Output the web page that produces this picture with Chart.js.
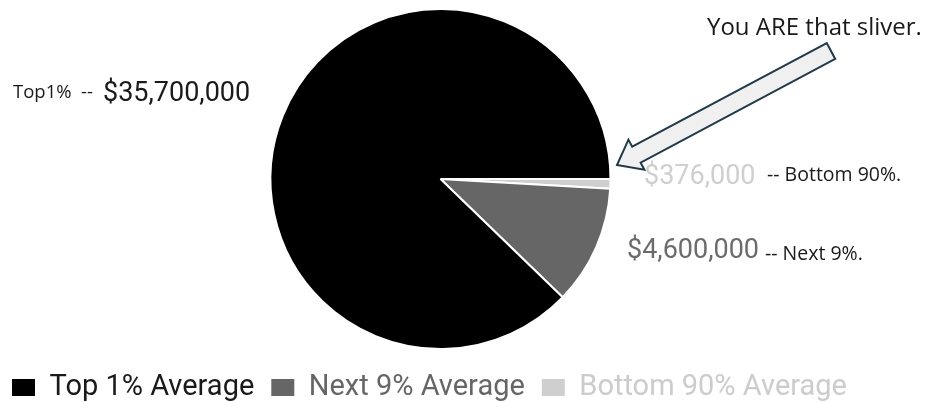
<!DOCTYPE html>
<html>
<head>
<meta charset="utf-8">
<script src="https://cdn.jsdelivr.net/npm/chart.js@4"></script>
<style>
  html, body { margin: 0; padding: 0; background: #fff; }
  #wrap { width: 927px; height: 402px; position: relative; }
</style>
</head>
<body>
<div id="wrap"><canvas id="wealthChart"></canvas></div>
<script>
// chart data (legend order)
var categories = ["Top 1% Average", "Next 9% Average", "Bottom 90% Average"];
var averages = [35700000, 4600000, 376000];
var sliceColors = ["#000000", "#666666", "#cfcfcf"];
var legendTextColors = ["#1a1a1a", "#666666", "#cccccc"];

// value labels beside the pie
var valueLabels = ["$35,700,000", "$4,600,000", "$376,000"];
var groupNames = ["Top1%", "Next 9%.", "Bottom 90%."];
var calloutText = "You ARE that sliver.";

// the pie is drawn clockwise from 3 o'clock: bottom 90% first, top 1% last
var drawOrder = [2, 1, 0];

var labelFont = "'Open Sans', sans-serif";
var valueFont = "Roboto, sans-serif";

// handle text labels + arrow
const annotations = {
  id: "annotations",
  afterDraw(chart) {
    const ctx = chart.ctx;
    ctx.save();
    ctx.textBaseline = "alphabetic";
    ctx.textAlign = "left";

    // left label
    ctx.fillStyle = "#1a1a1a";
    ctx.font = "18.5px " + labelFont;
    ctx.fillText(groupNames[0], 13, 98);
    ctx.fillText("--", 81, 98);
    ctx.font = "27px " + valueFont;
    ctx.fillText(valueLabels[0], 103, 101);

    // bottom 90%
    ctx.font = "27px " + valueFont;
    ctx.fillStyle = sliceColors[2];
    ctx.fillText(valueLabels[2], 644, 184);
    ctx.font = "19.5px " + labelFont;
    ctx.fillStyle = "#1a1a1a";
    ctx.fillText("-- " + groupNames[2], 767, 181);

    // next 9%
    ctx.font = "27px " + valueFont;
    ctx.fillStyle = "#6b6b6b";
    ctx.fillText(valueLabels[1], 627, 258);
    ctx.font = "19.5px " + labelFont;
    ctx.fillStyle = "#1a1a1a";
    ctx.fillText("-- " + groupNames[1], 765, 260);

    // callout
    ctx.font = "24px " + labelFont;
    ctx.fillText(calloutText, 707, 35);

    // hollow arrow pointing at the sliver
    const tip = { x: 617, y: 165 };
    const tail = { x: 831, y: 51 };
    const dx = tail.x - tip.x, dy = tail.y - tip.y;
    const len = Math.sqrt(dx * dx + dy * dy);
    const ux = dx / len, uy = dy / len;
    const nx = -uy, ny = ux;
    const headLen = 22, headW = 17, shaftW = 9;
    const bx = tip.x + ux * headLen, by = tip.y + uy * headLen;
    ctx.beginPath();
    ctx.moveTo(tip.x, tip.y);
    ctx.lineTo(bx + nx * headW, by + ny * headW);
    ctx.lineTo(bx + nx * shaftW, by + ny * shaftW);
    ctx.lineTo(tail.x + nx * shaftW, tail.y + ny * shaftW);
    ctx.lineTo(tail.x - nx * shaftW, tail.y - ny * shaftW);
    ctx.lineTo(bx - nx * shaftW, by - ny * shaftW);
    ctx.lineTo(bx - nx * headW, by - ny * headW);
    ctx.closePath();
    ctx.fillStyle = "#f0f0f0";
    ctx.fill();
    ctx.lineWidth = 2;
    ctx.strokeStyle = "#1f3a4a";
    ctx.stroke();

    ctx.restore();
  },
};

const ctxWealth = document.getElementById("wealthChart");

new Chart(ctxWealth, {
  type: "pie",
  data: {
    labels: drawOrder.map((i) => categories[i]),
    datasets: [
      {
        data: drawOrder.map((i) => averages[i]),
        backgroundColor: drawOrder.map((i) => sliceColors[i]),
        borderColor: "#ffffff",
        borderWidth: 2,
        hoverOffset: 0,
        radius: 170,
      },
    ],
  },
  options: {
    responsive: true,
    maintainAspectRatio: false,
    animation: false,
    rotation: 90,
    layout: {
      padding: { top: 2, left: -5, right: 46, bottom: -10 },
    },
    plugins: {
      tooltip: { enabled: false },
      legend: {
        position: "bottom",
        align: "start",
        labels: {
          boxWidth: 23,
          boxHeight: 17,
          padding: 17,
          font: { family: "Roboto", size: 29 },
          generateLabels(chart) {
            const ds = chart.data.datasets[0];
            return chart.data.labels.map((label, i) => ({
              text: label,
              fillStyle: ds.backgroundColor[i],
              strokeStyle: ds.backgroundColor[i],
              lineWidth: 0,
              fontColor: legendTextColors[drawOrder[i]],
              hidden: false,
              index: i,
            }));
          },
          sort: (a, b) => b.index - a.index,
        },
      },
    },
  },
  plugins: [annotations],
});
</script>
</body>
</html>
